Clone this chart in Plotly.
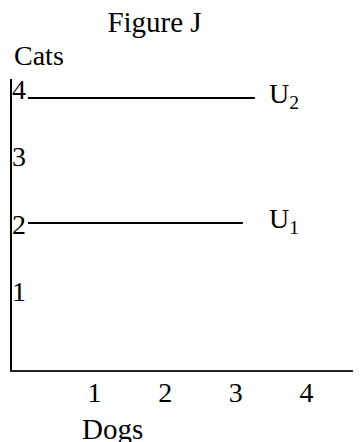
import plotly.graph_objects as go

# ---- data ----
dogs_ticks = [1, 2, 3, 4]
cats_ticks = [1, 2, 3, 4]
curve_names = ["U<sub>1</sub>", "U<sub>2</sub>"]
curve_levels = [2, 4]
curve_x_start = [0.06, 0.06]
curve_x_end = [3.1, 3.27]

FONT = "Liberation Serif, Times New Roman, serif"
FS = 28
# the page body has an 8px default margin, so the figure is sized to fill the rest
W, H = 353, 434
L, R, T, B = 4, 0, 71, 72
PW, PH = W - L - R, H - T - B

fig = go.Figure()
for name, lvl, x0, x1 in zip(curve_names, curve_levels, curve_x_start, curve_x_end):
    fig.add_trace(go.Scatter(x=[x0, x1], y=[lvl, lvl], mode="lines",
                             line=dict(color="black", width=2), hoverinfo="skip",
                             showlegend=False))
    fig.add_annotation(x=3.44, y=lvl, xref="x", yref="y", text=name, showarrow=False,
                       xanchor="left", yanchor="middle", yshift=3,
                       font=dict(family=FONT, size=FS, color="black"))

# invisible trace to anchor the label axes
fig.add_trace(go.Scatter(x=[None], y=[None], xaxis="x2", yaxis="y2", showlegend=False,
                         hoverinfo="skip"))

fig.add_annotation(x=0, y=1, xref="paper", yref="paper", text="Cats", showarrow=False,
                   xanchor="left", yanchor="bottom", yshift=6,
                   font=dict(family=FONT, size=FS, color="black"))
fig.add_annotation(x=0.8, y=0, xref="x", yref="paper", text="Dogs", showarrow=False,
                   xanchor="left", yanchor="top", yshift=-41,
                   font=dict(family=FONT, size=FS + 1, color="black"))

XR = [-0.166, 4.77]
fig.update_layout(
    width=W, height=H, autosize=False,
    margin=dict(l=L, r=R, t=T, b=B, autoexpand=False),
    paper_bgcolor="white", plot_bgcolor="white",
    title=dict(text="Figure J", x=146.5 / W, xanchor="center", xref="container",
               y=1 - 14 / H, yanchor="middle", automargin=False,
               font=dict(family=FONT, size=29, color="black")),
    xaxis=dict(range=XR, showticklabels=False, automargin=False,
               showgrid=False, zeroline=False, showline=True, linecolor="#222", linewidth=1.5,
               ticks=""),
    xaxis2=dict(range=XR, overlaying="x", anchor="free", position=0, side="bottom",
                tickvals=dogs_ticks, ticktext=[str(v) for v in dogs_ticks],
                showgrid=False, zeroline=False, showline=False, ticks="", automargin=False,
                ticklabelstandoff=3,
                tickfont=dict(family=FONT, size=FS, color="black")),
    yaxis=dict(range=[-0.352, 4.304], showgrid=False, zeroline=False, showline=True,
               linecolor="black", linewidth=2, showticklabels=False, ticks="",
               automargin=False),
    yaxis2=dict(range=[-0.163, 4.148], overlaying="y", anchor="free", position=14 / PW,
                side="left", tickvals=cats_ticks, ticktext=[str(v) for v in cats_ticks],
                showgrid=False, zeroline=False, showline=False, ticks="",
                ticklabelposition="outside", automargin=False,
                tickfont=dict(family=FONT, size=FS, color="black")),
)

fig.write_html("out.html")
